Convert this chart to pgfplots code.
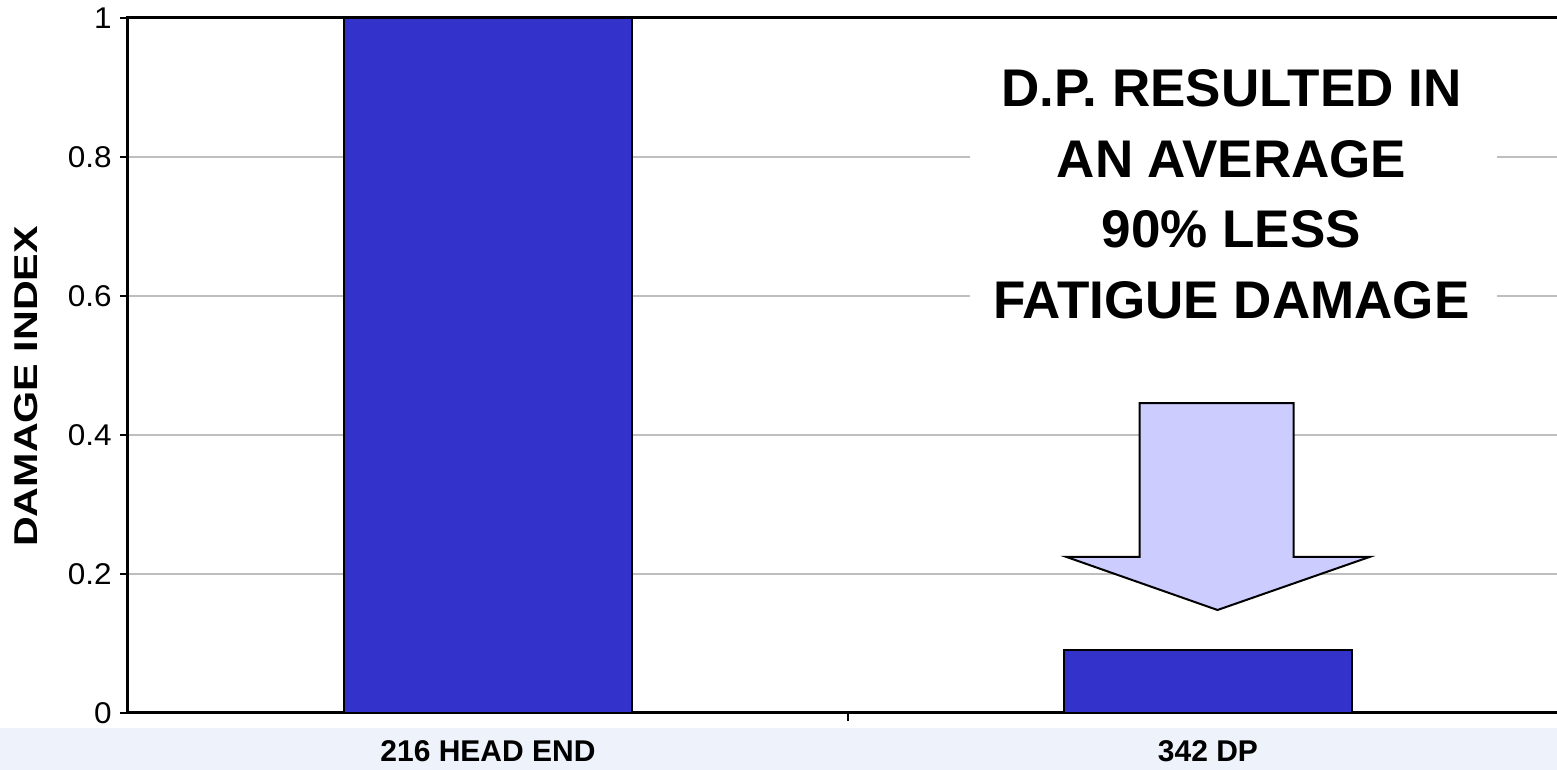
\documentclass[border=0pt]{standalone}
\usepackage{fontspec}
\setmainfont{Liberation Sans}
\newfontfamily\tickfont[FakeStretch=1.05]{Liberation Sans}
\newfontfamily\ylabfont[FakeStretch=1.25]{Liberation Sans}
\usepackage{pgfplots}
\pgfplotsset{compat=1.18}

\definecolor{barblue}{RGB}{51,51,204}
\definecolor{arrowfill}{RGB}{204,204,255}
\definecolor{gridgray}{RGB}{190,190,190}
\definecolor{bandblue}{RGB}{238,242,250}

\begin{document}
\begin{tikzpicture}
% pale band along the foot of the slide
\fill[bandblue] (-64pt,-28.5pt) rectangle (714.5pt,-7.5pt);
\begin{axis}[
  at={(0pt,0pt)}, anchor=south west,
  scale only axis,
  width=720pt, height=347.5pt,
  xmin=-0.5, xmax=1.5,
  ymin=0, ymax=1,
  clip=false,
  axis line style={line width=1.5pt},
  tick align=outside,
  xtick pos=bottom, ytick pos=left,
  ytick={0,0.2,0.4,0.6,0.8,1},
  major tick length=4pt,
  tick style={line width=1pt, black},
  xtick={0.5},
  xticklabels={},
  extra x ticks={0,1},
  extra x tick labels={216 HEAD END,342 DP},
  extra x tick style={major tick length=0pt, grid=none},
  xticklabel style={font=\bfseries\fontsize{15}{16}\selectfont, anchor=base, yshift=-24pt, inner sep=0pt},
  /pgf/number format/assume math mode=true,
  yticklabel style={font=\tickfont\fontsize{15}{15}\selectfont, anchor=east, inner sep=0pt, xshift=-4pt},
  ymajorgrids,
  major grid style={gridgray, line width=0.6pt},
  ylabel={DAMAGE INDEX},
  ylabel style={font=\ylabfont\bfseries\fontsize{16.5}{17}\selectfont, at={(axis description cs:-0.0705,0.4698)}, anchor=center},
]
\addplot[ybar, bar width=0.4, fill=barblue, draw=black, line width=1pt] coordinates {(0,1) (1,0.09)};

% white panel behind the note
\fill[white] (axis cs:0.669,0.537) rectangle (axis cs:1.4014,0.961);
\node[anchor=base, font=\bfseries\fontsize{26.5}{30}\selectfont] at (axis cs:1.0326,0.8724) {D.P. RESULTED IN};
\node[anchor=base, font=\bfseries\fontsize{26.5}{30}\selectfont] at (axis cs:1.0326,0.7709) {AN AVERAGE};
\node[anchor=base, font=\bfseries\fontsize{26.5}{30}\selectfont] at (axis cs:1.0326,0.6695) {90\% LESS};
\node[anchor=base, font=\bfseries\fontsize{26.5}{30}\selectfont] at (axis cs:1.0326,0.5679) {FATIGUE DAMAGE};

% block arrow pointing at the DP bar
\draw[fill=arrowfill, line width=1pt]
  (axis cs:0.9049,0.4460) -- (axis cs:1.1188,0.4460) -- (axis cs:1.1188,0.2245)
  -- (axis cs:1.2243,0.2245) -- (axis cs:1.0132,0.1482) -- (axis cs:0.8035,0.2245)
  -- (axis cs:0.9049,0.2245) -- cycle;
\end{axis}
\pgfresetboundingbox
\path[use as bounding box] (-64pt,-28.5pt) rectangle (714.5pt,356.5pt);
\end{tikzpicture}
\end{document}
